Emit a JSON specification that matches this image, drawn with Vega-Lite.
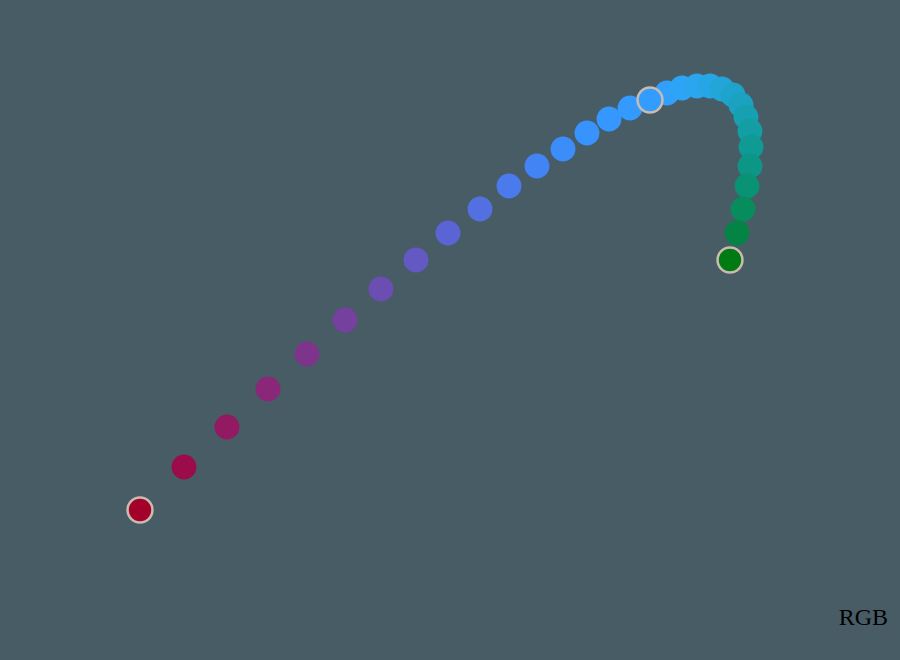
{
  "$schema": "https://vega.github.io/schema/vega-lite/v6.json",
  "width": 900,
  "height": 660,
  "autosize": {"type": "fit", "contains": "padding"},
  "padding": 0,
  "background": "#485c66",
  "config": {"view": {"stroke": null}},
  "datasets": {
    "pts": [
      {"i": 1, "x": 140, "y": 510, "c": "#a3002a", "ctrl": true},
      {"i": 2, "x": 184, "y": 467, "c": "#9c0c4a", "ctrl": false},
      {"i": 3, "x": 227, "y": 427, "c": "#931a62", "ctrl": false},
      {"i": 4, "x": 268, "y": 389, "c": "#8a2778", "ctrl": false},
      {"i": 5, "x": 307, "y": 354, "c": "#7f348c", "ctrl": false},
      {"i": 6, "x": 345, "y": 320, "c": "#76409e", "ctrl": false},
      {"i": 7, "x": 381, "y": 289, "c": "#6c4db2", "ctrl": false},
      {"i": 8, "x": 416, "y": 260, "c": "#6358c4", "ctrl": false},
      {"i": 9, "x": 448, "y": 233, "c": "#5a64d4", "ctrl": false},
      {"i": 10, "x": 480, "y": 209, "c": "#5270e2", "ctrl": false},
      {"i": 11, "x": 509, "y": 186, "c": "#4a7aec", "ctrl": false},
      {"i": 12, "x": 537, "y": 166, "c": "#4284f4", "ctrl": false},
      {"i": 13, "x": 563, "y": 149, "c": "#3c8cfa", "ctrl": false},
      {"i": 14, "x": 587, "y": 133, "c": "#3893fd", "ctrl": false},
      {"i": 15, "x": 609, "y": 119, "c": "#3597ff", "ctrl": false},
      {"i": 16, "x": 630, "y": 108, "c": "#349aff", "ctrl": false},
      {"i": 17, "x": 650, "y": 100, "c": "#339cff", "ctrl": true},
      {"i": 18, "x": 667, "y": 93, "c": "#31a0fc", "ctrl": false},
      {"i": 19, "x": 682, "y": 88, "c": "#2ea4f6", "ctrl": false},
      {"i": 20, "x": 697, "y": 86, "c": "#2aa6ee", "ctrl": false},
      {"i": 21, "x": 710, "y": 86, "c": "#26a6e4", "ctrl": false},
      {"i": 22, "x": 722, "y": 89, "c": "#22a6d8", "ctrl": false},
      {"i": 23, "x": 733, "y": 95, "c": "#1ea4cc", "ctrl": false},
      {"i": 24, "x": 741, "y": 105, "c": "#1aa2c0", "ctrl": false},
      {"i": 25, "x": 746, "y": 117, "c": "#16a0b2", "ctrl": false},
      {"i": 26, "x": 750, "y": 131, "c": "#139ea4", "ctrl": false},
      {"i": 27, "x": 751, "y": 147, "c": "#109a96", "ctrl": false},
      {"i": 28, "x": 750, "y": 166, "c": "#0d9686", "ctrl": false},
      {"i": 29, "x": 747, "y": 186, "c": "#0a9274", "ctrl": false},
      {"i": 30, "x": 743, "y": 209, "c": "#078c5e", "ctrl": false},
      {"i": 31, "x": 737, "y": 233, "c": "#048444", "ctrl": false},
      {"i": 32, "x": 730, "y": 260, "c": "#007a12", "ctrl": true}
    ]
  },
  "layer": [
    {
      "data": {"name": "pts"},
      "mark": {"type": "circle", "size": 620, "opacity": 1},
      "encoding": {
        "x": {"field": "x", "type": "quantitative", "scale": {"domain": [0, 900]}, "axis": null},
        "y": {"field": "y", "type": "quantitative", "scale": {"domain": [0, 660], "reverse": true}, "axis": null},
        "color": {"field": "c", "type": "nominal", "scale": null, "legend": null},
        "order": {"field": "i", "type": "quantitative"}
      }
    },
    {
      "data": {"name": "pts"},
      "transform": [{"filter": "datum.ctrl"}],
      "mark": {"type": "circle", "size": 620, "opacity": 1, "stroke": "#c9bcae", "strokeWidth": 2.5},
      "encoding": {
        "x": {"field": "x", "type": "quantitative", "scale": {"domain": [0, 900]}, "axis": null},
        "y": {"field": "y", "type": "quantitative", "scale": {"domain": [0, 660], "reverse": true}, "axis": null},
        "color": {"field": "c", "type": "nominal", "scale": null, "legend": null}
      }
    },
    {
      "data": {"values": [{"label": "RGB", "x": 888, "y": 625}]},
      "mark": {"type": "text", "align": "right", "baseline": "alphabetic", "font": "Liberation Serif", "fontSize": 24, "color": "#000000"},
      "encoding": {
        "x": {"field": "x", "type": "quantitative", "scale": {"domain": [0, 900]}, "axis": null},
        "y": {"field": "y", "type": "quantitative", "scale": {"domain": [0, 660], "reverse": true}, "axis": null},
        "text": {"field": "label"}
      }
    }
  ]
}
